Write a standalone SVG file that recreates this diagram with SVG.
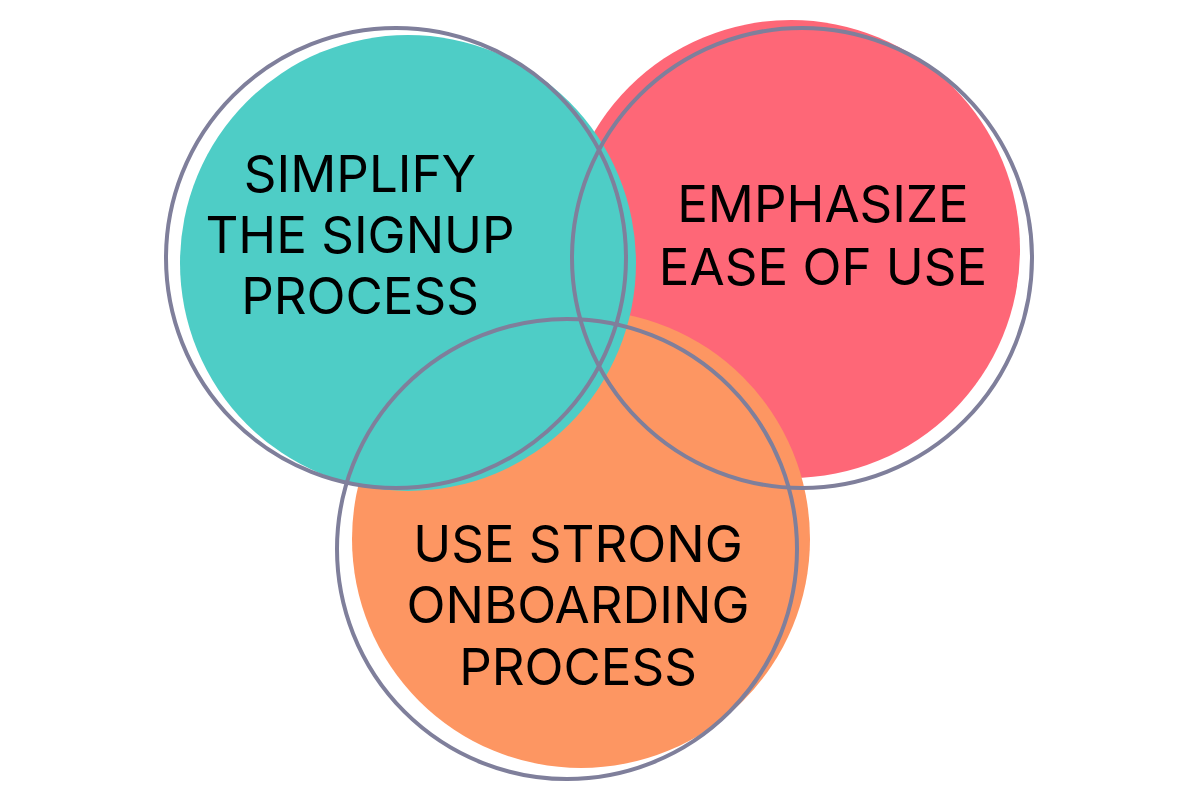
<svg xmlns="http://www.w3.org/2000/svg" width="1200" height="800" viewBox="0 0 1200 800">
<style>
.ring{fill:none;stroke:#7f7f9b;stroke-width:4}
.lbl{font-family:Inter,"Liberation Sans",sans-serif;font-size:51px;fill:#000;text-anchor:middle}
</style>
<rect width="1200" height="800" fill="#fff"/>
<g id="fills">
<circle id="fill-red" cx="791" cy="249" r="229" fill="#fe6777"/>
<circle id="fill-orange" cx="581" cy="539" r="229" fill="#fd9662"/>
<circle id="fill-teal" cx="408" cy="263" r="228" fill="#4ecdc6"/>
</g>
<g id="rings">
<circle class="ring" cx="396" cy="258" r="230"/>
<circle class="ring" cx="802" cy="258" r="230"/>
<circle class="ring" cx="567" cy="549" r="230"/>
</g>
<g id="node-signup">
<text class="lbl" x="360" y="192">SIMPLIFY</text>
<text class="lbl" x="360" y="253">THE SIGNUP</text>
<text class="lbl" x="360" y="314">PROCESS</text>
</g>
<g id="node-ease">
<text class="lbl" x="823" y="222">EMPHASIZE</text>
<text class="lbl" x="823" y="285">EASE OF USE</text>
</g>
<g id="node-onboarding">
<text class="lbl" x="578" y="562">USE STRONG</text>
<text class="lbl" x="578" y="623">ONBOARDING</text>
<text class="lbl" x="578" y="685">PROCESS</text>
</g>
</svg>
